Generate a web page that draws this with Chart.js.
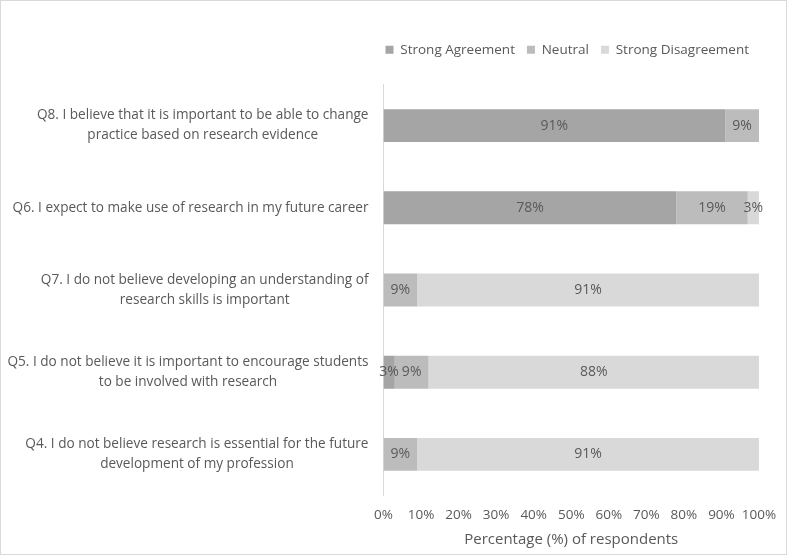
<!DOCTYPE html>
<html>
<head>
<meta charset="utf-8">
<script src="https://cdn.jsdelivr.net/npm/chart.js@4"></script>
<style>
html,body{margin:0;padding:0;background:#fff;}
#wrap{width:787px;height:555px;box-sizing:border-box;border:1px solid #d9d9d9;position:relative;}
</style>
</head>
<body>
<div id="wrap"><canvas id="c"></canvas></div>
<script>
const categories = [
  ["Q8. I believe that it is important to be able to change", "practice based on research evidence"],
  ["Q6. I expect to make use of research in my future career"],
  ["Q7. I do not believe developing an understanding of", "research skills is important"],
  ["Q5. I do not believe it is important to encourage students", "to be involved with research"],
  ["Q4. I do not believe research is essential for the future", "development of my profession"]
];
const seriesNames = ["Strong Agreement", "Neutral", "Strong Disagreement"];
const strongAgreement = [91, 78, 0, 3, 0];
const neutral = [9, 19, 9, 9, 9];
const strongDisagreement = [0, 3, 91, 88, 91];
const xTicks = [0,10,20,30,40,50,60,70,80,90,100];
const colors = ["#a5a5a5", "#bcbcbc", "#d9d9d9"];
const textColor = "#595959";
const fontFamily = "'Open Sans', 'Noto Sans', sans-serif";
const yFontSize = 13.6;
const yPad = 15;

const labelPlugin = {
  id: 'barLabels',
  afterDatasetsDraw(chart) {
    const ctx = chart.ctx;
    ctx.save();
    ctx.font = "14px " + fontFamily;
    ctx.fillStyle = textColor;
    ctx.textAlign = 'center';
    ctx.textBaseline = 'middle';
    chart.data.datasets.forEach((ds, i) => {
      const meta = chart.getDatasetMeta(i);
      meta.data.forEach((bar, j) => {
        const v = ds.data[j];
        if (!v) return;
        const p = bar.getProps(['x','y','base'], true);
        ctx.fillText(v + '%', (p.x + p.base) / 2, p.y);
      });
    });
    ctx.restore();
  }
};

// y labels: each block right-aligned to the axis, lines centred within the block
const yLabelPlugin = {
  id: 'yLabels',
  afterDraw(chart) {
    const scale = chart.scales.y;
    const ctx = chart.ctx;
    ctx.save();
    ctx.font = yFontSize + "px " + fontFamily;
    ctx.fillStyle = textColor;
    ctx.textAlign = 'center';
    ctx.textBaseline = 'middle';
    const lh = 20;
    const right = scale.right - yPad;
    chart.data.labels.forEach((lines, i) => {
      const y = scale.getPixelForTick(i);
      const w = Math.max(...lines.map(l => ctx.measureText(l).width));
      const cx = right - w / 2;
      const y0 = y - (lines.length - 1) * lh / 2;
      lines.forEach((l, k) => ctx.fillText(l, cx, y0 + k * lh));
    });
    ctx.restore();
  }
};

const legendGap = {
  id: 'legendGap',
  beforeInit(chart) {
    const lg = chart.legend;
    if (!lg) return;
    const fit = lg.fit;
    lg.fit = function() { fit.call(this); this.height += 18; };
  },
  afterLayout(chart) {
    if (chart.legend) chart.legend.right += 2;
  }
};

new Chart(document.getElementById('c'), {
  type: 'bar',
  data: {
    labels: categories,
    datasets: [
      { label: seriesNames[0], data: strongAgreement, backgroundColor: colors[0] },
      { label: seriesNames[1], data: neutral, backgroundColor: colors[1] },
      { label: seriesNames[2], data: strongDisagreement, backgroundColor: colors[2] }
    ]
  },
  options: {
    indexAxis: 'y',
    responsive: true,
    maintainAspectRatio: false,
    animation: false,
    layout: { padding: { left: 7, right: 27, top: 30, bottom: 4 } },
    datasets: { bar: { barPercentage: 0.4, categoryPercentage: 1.0 } },
    plugins: {
      legend: {
        position: 'top',
        align: 'end',
        labels: {
          boxWidth: 8, boxHeight: 8, padding: 12,
          color: textColor,
          font: { family: fontFamily, size: 13.5 }
        }
      },
      tooltip: { enabled: false }
    },
    scales: {
      x: {
        stacked: true,
        min: 0, max: 100,
        afterBuildTicks(scale) { scale.ticks = xTicks.map(v => ({ value: v })); },
        afterFit(scale) { scale.paddingLeft = 0; scale.paddingRight = 0; },
        grid: { display: false, drawTicks: false },
        border: { display: false },
        ticks: {
          padding: 13,
          maxRotation: 0,
          minRotation: 0,
          autoSkip: false,
          color: textColor,
          font: { family: fontFamily, size: 13.5, lineHeight: 1 },
          callback: v => v + '%'
        },
        title: {
          display: true,
          text: 'Percentage (%) of respondents',
          color: textColor,
          font: { family: fontFamily, size: 15, lineHeight: 1 },
          padding: { top: -3, bottom: 3 }
        }
      },
      y: {
        stacked: true,
        grid: { display: false, drawTicks: false },
        border: { display: true, color: '#d9d9d9' },
        ticks: {
          padding: yPad,
          crossAlign: 'near',
          color: 'rgba(0,0,0,0)',
          font: { family: fontFamily, size: yFontSize, lineHeight: '20px' }
        }
      }
    }
  },
  plugins: [labelPlugin, yLabelPlugin, legendGap]
});
</script>
</body>
</html>
